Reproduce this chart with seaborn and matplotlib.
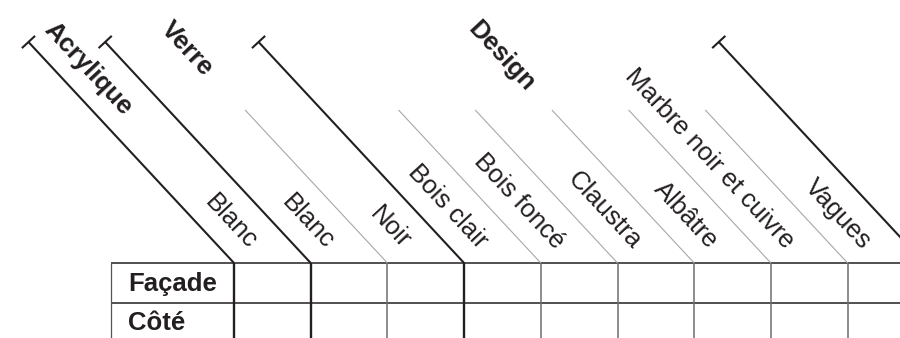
import numpy as np
import seaborn as sns
import matplotlib.pyplot as plt

groups = ['Acrylique', 'Verre', 'Design']
group_sizes = [1, 2, 6]
columns = ['Blanc', 'Blanc', 'Noir', 'Bois clair', 'Bois foncé', 'Claustra',
           'Albâtre', 'Marbre noir et cuivre', 'Vagues']
rows = ['Façade', 'Côté']

sns.set_theme(style='white')
plt.rcParams['font.family'] = ['Liberation Sans', 'DejaVu Sans']

# layout in pixels (figure is 900 x 338)
X_LAB, X_TAB, COL_W = 111, 234, 76.7
Y_TOP, ROW_H = 263, 40
Y_CAP, Y_THIN = 42, 110
K = 0.93  # dx per dy of the slanted header lines
ANGLE = -np.degrees(np.arctan2(1, K))
INK = '#231f20'
FS = 18.5

fig = plt.figure(figsize=(9, 3.38), dpi=100)
ax = fig.add_axes([0, 0, 1, 1])
ax.set_xlim(0, 900)
ax.set_ylim(338, 0)
ax.axis('off')

bounds = list(np.cumsum([0] + group_sizes))
xs = X_TAB + COL_W * np.arange(len(columns) + 1)


def slant(x, y):
    return x - K * (Y_TOP - y)


# table grid
y_bot = Y_TOP + ROW_H * len(rows) + 10
for y in Y_TOP + ROW_H * np.arange(len(rows)):
    ax.plot([X_LAB, xs[-1]], [y, y], color=INK, lw=1.1, solid_capstyle='butt')
ax.plot([X_LAB, X_LAB], [Y_TOP, y_bot], color='#555555', lw=0.9)

p = np.array([1, -K]) / np.hypot(1, K)
for i, x in enumerate(xs):
    thick = i in bounds
    ax.plot([x, x], [Y_TOP, y_bot], color=INK if thick else '#6d6d6d',
            lw=1.7 if thick else 1.1, solid_capstyle='butt')
    y0 = Y_CAP if thick else Y_THIN
    xt = slant(x, y0)
    ax.plot([x, xt], [Y_TOP, y0], color=INK if thick else '#a8a8a8',
            lw=1.5 if thick else 0.8, solid_capstyle='butt')
    if thick:
        ax.plot([xt - 9 * p[0], xt + 9 * p[0]], [y0 - 9 * p[1], y0 + 9 * p[1]],
                color=INK, lw=1.5, solid_capstyle='butt')

# column headers
for j, name in enumerate(columns):
    ax.text(xs[j] + 14, 250, name, rotation=ANGLE, rotation_mode='anchor',
            ha='right', va='baseline', fontsize=FS, color=INK)

# group headers
offsets = [(21, 27), (5, 7), (13, 14)]
for g, name in enumerate(groups):
    lo, hi = bounds[g], bounds[g + 1]
    mx = (slant(xs[lo], Y_CAP) + slant(xs[hi], Y_CAP)) / 2
    dx, dy = offsets[g]
    ax.text(mx + dx, Y_CAP + dy, name, rotation=ANGLE, rotation_mode='anchor',
            ha='center', va='center', fontsize=FS, fontweight='bold', color=INK)

# row labels
for r, name in enumerate(rows):
    ax.text(128, Y_TOP + ROW_H * r + 27.5, name, ha='left', va='baseline',
            fontsize=FS, fontweight='bold', color=INK)

fig.savefig('out.png', dpi=100)
